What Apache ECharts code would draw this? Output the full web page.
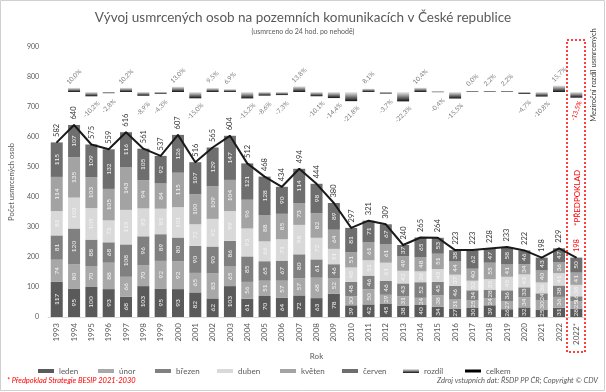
<!DOCTYPE html>
<html><head><meta charset="utf-8">
<script src="https://cdn.jsdelivr.net/npm/echarts@6/dist/echarts.min.js"></script>
<style>html,body{margin:0;padding:0;background:#fff}#c{width:606px;height:392px}</style>
</head><body><div id="c"></div>
<script>
const years=['1993','1994','1995','1996','1997','1998','1999','2000','2001','2002','2003','2004','2005','2006','2007','2008','2009','2010','2011','2012','2013','2014','2015','2016','2017','2018','2019','2020','2021','2022','2022*'];
const leden =[117,95,100,93,68,103,95,93,82,62,103,61,70,64,72,63,78,39,42,45,38,40,34,27,30,39,26,32,25,31,28];
const unor  =[74,80,70,88,66,70,92,92,65,83,65,56,51,57,57,68,52,30,50,29,31,24,38,31,25,24,27,34,30,36,25];
const brezen=[81,120,88,68,108,96,89,80,90,90,86,85,65,67,80,61,46,48,46,46,43,52,45,46,34,28,36,33,24,38,16];
const duben =[81,103,105,73,115,93,85,101,72,92,99,93,66,71,98,72,51,48,51,61,42,36,43,37,32,35,45,43,36,41,38];
const kveten=[114,135,103,105,143,94,84,115,100,109,104,96,88,85,73,82,64,51,61,61,49,48,51,44,40,55,41,34,40,36,41];
const cerven=[115,107,109,132,116,105,92,126,107,129,147,121,128,90,114,98,89,81,71,67,37,65,53,38,62,47,58,46,43,47,50];
const celkem=[582,640,575,559,616,561,537,607,516,565,604,512,468,434,494,444,380,297,321,309,240,265,264,223,223,228,233,222,198,229,198];
const rozdil=[null,10.0,-10.2,-2.8,10.2,-8.9,-4.3,13.0,-15.0,9.5,6.9,-15.2,-8.6,-7.3,13.8,-10.1,-14.4,-21.8,8.1,-3.7,-22.3,10.4,-0.4,-15.5,0.0,2.2,2.2,-4.7,-10.8,15.7,-13.5];
const yTicks={min:0,max:900,interval:100};

const FONT='Lato';
const K=1.4, BASE=750;
const last=years.length-1;
const fmtPct=p=>p.toFixed(1).replace('.',',')+'%';

const segNames=['leden','únor','březen','duben','květen','červen'];
const segData=[leden,unor,brezen,duben,kveten,cerven];
const segColors=['#5a5a5a','#a8a8a8','#808080','#d9d9d9','#a3a3a3','#6e6e6e'];

const series=[];
segData.forEach((d,si)=>{
  series.push({
    name:segNames[si],type:'bar',stack:'a',barWidth:12,barGap:'-100%',
    data:d,itemStyle:{color:segColors[si]},
    label:{show:true,position:'inside',rotate:90,fontSize:6.5,color:'#f4f4f4',fontFamily:FONT},
    emphasis:{disabled:true}
  });
});
series.push({
  name:'_base',type:'bar',stack:'r',barWidth:12,barGap:'-100%',silent:true,
  data:rozdil.map(p=>p==null?null:(p>=0?BASE:BASE+p*K)),
  itemStyle:{color:'rgba(0,0,0,0)'},label:{show:false},emphasis:{disabled:true}
});
series.push({
  name:'rozdíl',type:'bar',stack:'r',barWidth:12,barGap:'-100%',barMinHeight:1,
  itemStyle:{color:{type:'linear',x:0,y:0,x2:0,y2:1,colorStops:[{offset:0,color:'#eeeeee'},{offset:1,color:'#111111'}]}},
  emphasis:{disabled:true},
  data:rozdil.map((p,i)=>{
    if(p==null) return null;
    const pos=p>=0;
    return {value:Math.abs(p)*K,label:{show:true,formatter:fmtPct(p),
      position:pos?'top':'bottom',distance:pos?11:13,rotate:i===last?70:45,
      align:'center',verticalAlign:'middle',fontSize:6.5,
      color:i===last?'#ff0000':'#7f7f7f',fontFamily:FONT}};
  })
});
series.push({
  name:'celkem',type:'line',data:celkem.map((v,i)=>i===last?{value:v,label:{color:'#ff0000'}}:v),
  symbol:'circle',symbolSize:1,itemStyle:{color:'#000'},
  lineStyle:{color:'#1a1a1a',width:2},z:5,
  label:{show:true,position:'top',rotate:90,align:'left',verticalAlign:'middle',distance:5,fontSize:7.5,color:'#333',fontFamily:FONT},
  emphasis:{disabled:true}
});

const legendX=[33,93,150,212,275,337,398,460];
const legendNames=['leden','únor','březen','duben','květen','červen','rozdíl','celkem'];
const legends=legendNames.map((n,i)=>({
  data:[n],left:legendX[i],top:362,itemWidth:16,itemHeight:n==='celkem'?3:4,itemGap:6,
  textStyle:{fontSize:8,color:'#595959',fontFamily:FONT},selectedMode:false,icon:'rect'
}));

const chart=echarts.init(document.getElementById('c'));
chart.setOption({
  animation:false,
  textStyle:{fontFamily:FONT},
  title:{text:'Vývoj usmrcených osob na pozemních komunikacích v České republice',
    subtext:'(usmrceno do 24 hod. po nehodě)',left:'center',top:6,itemGap:3,
    textStyle:{fontSize:13.5,fontWeight:'normal',color:'#595959',fontFamily:FONT},
    subtextStyle:{fontSize:7,color:'#595959',fontFamily:FONT}},
  legend:legends,
  grid:{left:42,right:21,top:47,bottom:75},
  xAxis:{type:'category',data:years,
    axisLine:{lineStyle:{color:'#d9d9d9'}},axisTick:{show:false},
    axisLabel:{rotate:90,fontSize:8,color:'#595959',margin:6,fontFamily:FONT},
    name:'Rok',nameLocation:'middle',nameGap:35,nameTextStyle:{fontSize:8,color:'#595959'}},
  yAxis:{type:'value',min:yTicks.min,max:yTicks.max,interval:yTicks.interval,
    splitLine:{show:false},axisLine:{show:false},axisTick:{show:false},
    axisLabel:{fontSize:7,color:'#595959',margin:9,fontFamily:FONT},
    name:'Počet usmrcených osob',nameLocation:'middle',nameGap:30,nameRotate:90,
    nameTextStyle:{fontSize:7.5,color:'#595959'}},
  series:series,
  graphic:[
    {type:'rect',shape:{x:0.5,y:0.5,width:604,height:390},style:{fill:'none',stroke:'#d0d0d0',lineWidth:1},silent:true},
    {type:'rect',shape:{x:567,y:40,width:18,height:312},style:{fill:'none',stroke:'#ff0000',lineWidth:1.5,lineDash:[2,2]},silent:true,z:10},
    {type:'text',x:594,y:75,rotation:Math.PI/2,style:{text:'Meziroční rozdíl usmrcených',fontSize:7.5,fill:'#404040',align:'center',verticalAlign:'middle',fontFamily:FONT}},
    {type:'text',x:577,y:198,rotation:Math.PI/2,style:{text:'*PŘEDPOKLAD',fontSize:8,fill:'#ff0000',align:'center',verticalAlign:'middle',fontFamily:FONT}},
    {type:'text',x:7,y:381,style:{text:'* Předpoklad Strategie BESIP 2021-2030',fontSize:7.5,fontStyle:'italic',fill:'#ff0000',verticalAlign:'middle',fontFamily:FONT}},
    {type:'text',x:598,y:381,style:{text:'Zdroj vstupních dat: ŘSDP PP ČR; Copyright © CDV',fontSize:7.5,fontStyle:'italic',fill:'#595959',align:'right',verticalAlign:'middle',fontFamily:FONT}}
  ]
});
</script></body></html>
